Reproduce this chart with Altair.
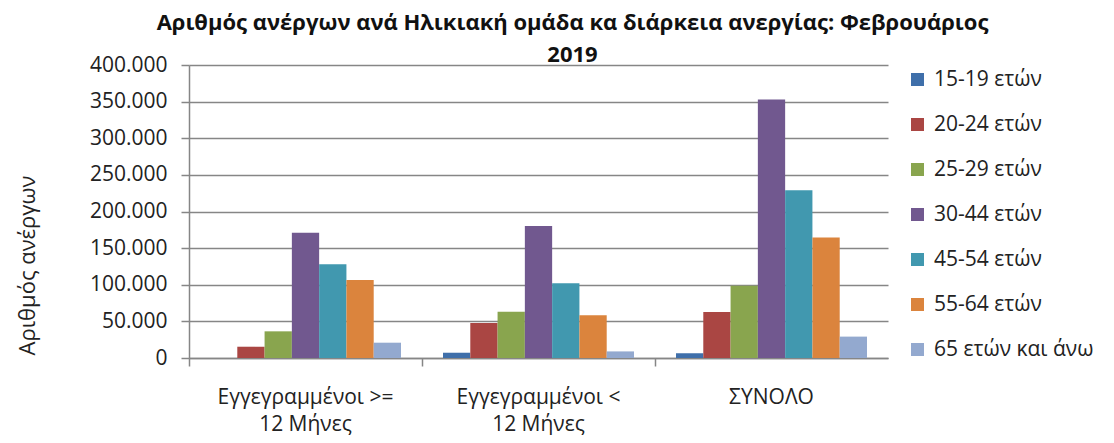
import altair as alt
import pandas as pd

groups = ["Εγγεγραμμένοι >=\n12 Μήνες", "Εγγεγραμμένοι <\n12 Μήνες", "ΣΥΝΟΛΟ"]
ages = ["15-19 ετών", "20-24 ετών", "25-29 ετών", "30-44 ετών",
        "45-54 ετών", "55-64 ετών", "65 ετών και άνω"]
colors = ["#3F6FAA", "#AA4643", "#89A54E", "#71588F", "#4198AF", "#DB843D", "#93A9CF"]

vals_ge12 = [0, 15400, 36400, 171000, 128000, 106500, 20900]
vals_lt12 = [7200, 47800, 63200, 180200, 101900, 58200, 9000]
vals_total = [6400, 62800, 98800, 352800, 229000, 164400, 29200]

rows = []
for g, vals in zip(groups, [vals_ge12, vals_lt12, vals_total]):
    for a, v in zip(ages, vals):
        rows.append({"group": g, "age": a, "value": v})
df = pd.DataFrame(rows)

FONT = "Open Sans"

chart = alt.Chart(df).mark_bar().encode(
    x=alt.X("group:N", sort=groups,
            scale=alt.Scale(paddingInner=0, paddingOuter=0),
            axis=alt.Axis(title=None, labelAngle=0, bandPosition=0,
                          labelExpr="split(datum.label, '\\n')",
                          labelFontSize=21, labelFont=FONT, labelColor="#222222",
                          labelLineHeight=27, labelPadding=20,
                          tickSize=8, tickColor="#868686", domainColor="#868686",
                          domainWidth=1.5, tickWidth=1.5, grid=False)),
    xOffset=alt.XOffset("age:N", sort=ages,
                        scale=alt.Scale(paddingInner=0, paddingOuter=0.77)),
    y=alt.Y("value:Q",
            scale=alt.Scale(domain=[0, 400000], nice=False),
            axis=alt.Axis(title="Αριθμός ανέργων", values=list(range(0, 400001, 50000)),
                          labelExpr="replace(format(datum.value, ','), ',', '.')",
                          labelFontSize=21, labelFont=FONT, labelColor="#222222",
                          labelPadding=14, tickSize=8, tickColor="#868686",
                          tickWidth=1.5, domainColor="#868686", domainWidth=1.5,
                          gridColor="#868686", gridWidth=1.5,
                          titleFont=FONT, titleFontSize=22, titleFontWeight="normal",
                          titleColor="#222222", titleX=-162, titleY=200,
                          titleAngle=-90, titleAlign="center", titleBaseline="middle")),
    color=alt.Color("age:N", sort=ages,
                    scale=alt.Scale(domain=ages, range=colors),
                    legend=alt.Legend(title=None, orient="none", legendX=718, legendY=4,
                                      symbolType="square", symbolSize=170,
                                      symbolStrokeWidth=0, labelFont=FONT,
                                      labelFontSize=21, labelColor="#222222",
                                      labelOffset=6, rowPadding=23)),
).properties(
    width=699,
    height=293,
    padding={"left": 181, "top": 57, "right": 218, "bottom": 77},
    autosize=alt.AutoSizeParams(type="none"),
    title=alt.TitleParams(
        text="Αριθμός ανέργων ανά Ηλικιακή ομάδα κα διάρκεια ανεργίας: Φεβρουάριος",
        subtitle="2019",
        font=FONT, fontSize=22, fontWeight="bold", color="#111111",
        subtitleFont=FONT, subtitleFontSize=22, subtitleFontWeight="bold",
        subtitleColor="#111111", subtitlePadding=10,
        anchor="middle", frame="group", dx=34, offset=-13),
).configure_view(stroke=None)

chart.save("out.html", embed_options={"renderer": "svg", "actions": False})
